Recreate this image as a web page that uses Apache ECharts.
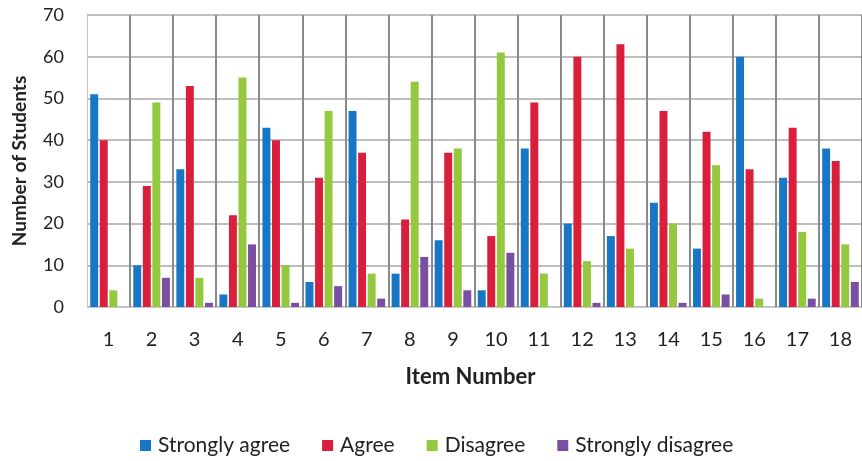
<!DOCTYPE html>
<html><head><meta charset="utf-8">
<script src="https://cdn.jsdelivr.net/npm/echarts@6/dist/echarts.min.js"></script>
<style>html,body{margin:0;padding:0;background:#fff}#c{width:862px;height:461px}</style>
</head><body><div id="c"></div>
<script>
const categories = ['1','2','3','4','5','6','7','8','9','10','11','12','13','14','15','16','17','18'];
const stronglyAgree    = [51,10,33,3,43,6,47,8,16,4,38,20,17,25,14,60,31,38];
const agree            = [40,29,53,22,40,31,37,21,37,17,49,60,63,47,42,33,43,35];
const disagree         = [4,49,7,55,10,47,8,54,38,61,8,11,14,20,34,2,18,15];
const stronglyDisagree = [0,7,1,15,1,5,2,12,4,13,0,1,0,1,3,0,2,6];
const seriesNames = ['Strongly agree','Agree','Disagree','Strongly disagree'];
const colors = ['#1777c4','#d91f3c','#93c83f','#7a4ea3'];
const font = 'Lato, "Open Sans", sans-serif';

const chart = echarts.init(document.getElementById('c'));
const data = [stronglyAgree, agree, disagree, stronglyDisagree];
chart.setOption({
  animation: false,
  color: colors,
  textStyle: {fontFamily: font},
  grid: {left: 87, top: 15, right: -12, bottom: 154, containLabel: false},
  legend: {
    top: 430, left: 135, itemWidth: 11, itemHeight: 11, itemGap: 32,
    icon: 'rect',
    textStyle: {fontFamily: font, fontSize: 21, color: '#222', padding: [0,0,0,2]},
    data: seriesNames
  },
  xAxis: {
    type: 'category', data: categories,
    name: 'Item Number', nameLocation: 'middle', nameGap: 59,
    nameTextStyle: {fontFamily: font, fontSize: 22, fontWeight: 'bold', color: '#222', padding: [0,0,0,-8]},
    axisLine: {show: true, lineStyle: {color: '#c8c8c8', width: 1}},
    axisTick: {show: false},
    axisLabel: {fontSize: 20, color: '#222', margin: 23},
    splitLine: {show: true, showMinLine: false, lineStyle: {color: '#8a8a8a', width: 2}}
  },
  yAxis: {
    type: 'value', min: 0, max: 70, interval: 10,
    name: 'Number of Students', nameLocation: 'middle', nameGap: 58, nameRotate: 90,
    nameTextStyle: {fontFamily: font, fontSize: 19, fontWeight: 'bold', color: '#222'},
    axisLine: {show: true, lineStyle: {color: '#c8c8c8', width: 1}},
    axisTick: {show: false},
    axisLabel: {fontSize: 18, color: '#222', margin: 23},
    splitLine: {show: true, lineStyle: {color: '#a8a8a8', width: 1.5}}
  },
  series: seriesNames.map((n, i) => ({
    name: n, type: 'bar', data: data[i],
    label: {show: false},
    barGap: '20%', barCategoryGap: '15%'
  }))
});
</script></body></html>
